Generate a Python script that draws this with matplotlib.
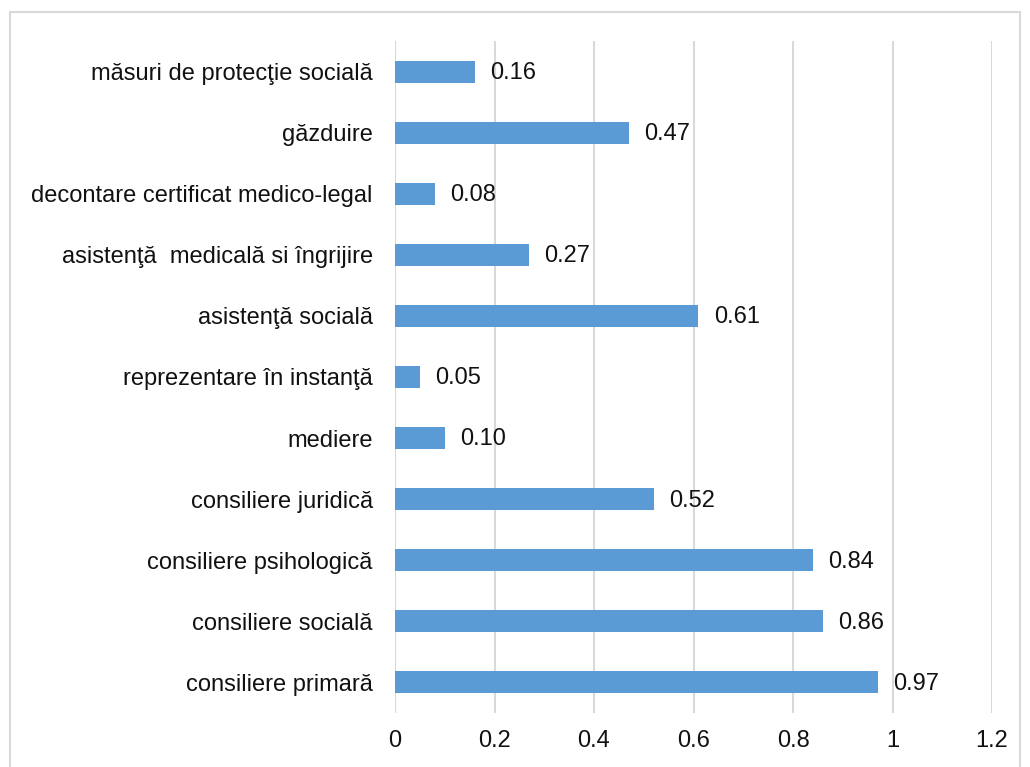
import matplotlib
matplotlib.use("Agg")
import matplotlib.pyplot as plt
from matplotlib.patches import Rectangle

categories = [
    "consiliere primară",
    "consiliere socială",
    "consiliere psihologică",
    "consiliere juridică",
    "mediere",
    "reprezentare în instanţă",
    "asistenţă socială",
    "asistenţă  medicală si îngrijire",
    "decontare certificat medico-legal",
    "găzduire",
    "măsuri de protecţie socială",
]
values = [0.97, 0.86, 0.84, 0.52, 0.10, 0.05, 0.61, 0.27, 0.08, 0.47, 0.16]
xticks = [0, 0.2, 0.4, 0.6, 0.8, 1.0, 1.2]
xtick_labels = ["0", "0.2", "0.4", "0.6", "0.8", "1", "1.2"]

plt.rcParams['font.family'] = ['Liberation Sans', 'DejaVu Sans']
W, H = 1030, 767
fig = plt.figure(figsize=(W / 100, H / 100), dpi=100)
ax = fig.add_axes([395 / W, 1 - 713 / H, (992 - 395) / W, (713 - 41) / H])

text_color = "#111111"
bar_color = "#5B9BD5"
fs = 17
ypos = list(range(len(categories)))
ax.barh(ypos, values, height=0.36, color=bar_color, zorder=3)
for y, v in zip(ypos, values):
    ax.annotate(f"{v:.2f}", (v, y), xytext=(11, -1), textcoords="offset points",
                va="center", ha="left", fontsize=fs, color=text_color)

ax.set_xlim(0, 1.2)
ax.set_ylim(-0.5, len(categories) - 0.5)
ax.set_xticks(xticks)
ax.set_xticklabels(xtick_labels)
ax.set_yticks(ypos)
ax.set_yticklabels(categories)
ax.tick_params(axis="both", length=0, labelsize=fs, labelcolor=text_color)
ax.tick_params(axis="y", pad=16)
ax.tick_params(axis="x", pad=12)
ax.grid(axis="x", color="#D9D9D9", linewidth=1.5, zorder=0)
ax.set_axisbelow(True)
for s in ax.spines.values():
    s.set_visible(False)

fig.patches.append(Rectangle((9.5 / W, -0.05), (1020 - 9.5) / W, 1.05 - 11.5 / H,
                             transform=fig.transFigure, fill=False,
                             edgecolor="#D9D9D9", linewidth=1.5))

fig.savefig("out.png", dpi=100, facecolor="white")
